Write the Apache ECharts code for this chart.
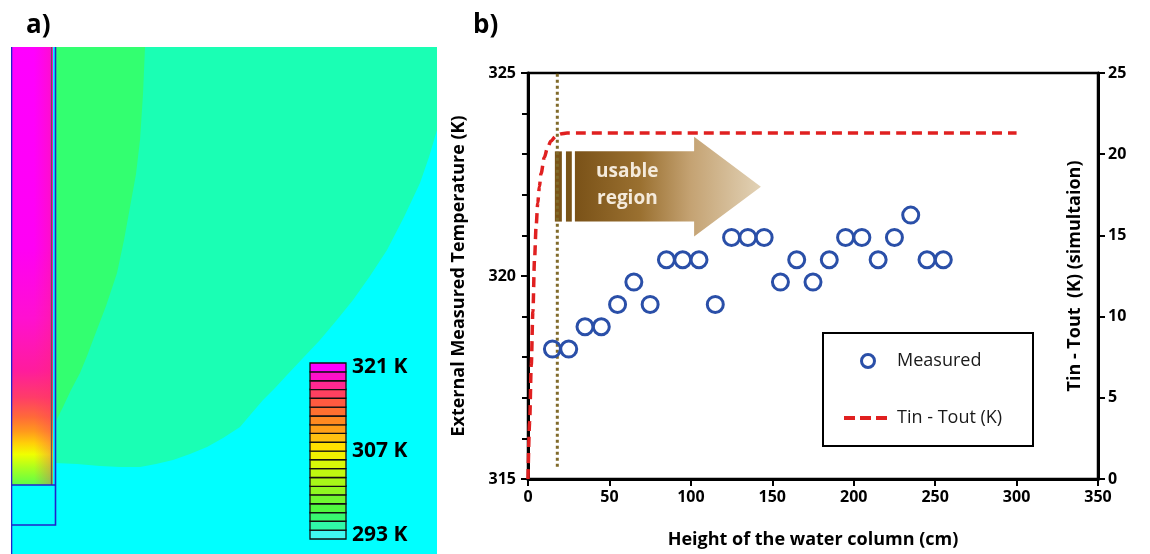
<!DOCTYPE html>
<html><head><meta charset="utf-8">
<script src="https://cdn.jsdelivr.net/npm/echarts@6/dist/echarts.min.js"></script>
<style>html,body{margin:0;padding:0;background:#fff}#c{width:1150px;height:554px}</style>
</head><body><div id="c"></div>
<script>
// ---------- Panel b data ----------
const heights = [15,25,35,45,55,65,75,85,95,105,115,125,135,145,155,165,175,185,195,205,215,225,235,245,255];
const measuredTemps = [318.2,318.2,318.75,318.75,319.3,319.85,319.3,320.4,320.4,320.4,319.3,320.95,320.95,320.95,319.85,320.4,319.85,320.4,320.95,320.95,320.4,320.95,321.5,320.4,320.4];
const simHeights = [0,1,2,3,4,5,6,7,8,10,12,14,17,20,24,30,300];
const simDeltaT  = [0,3.5,7,10.3,13.5,15.6,17,18,18.8,19.8,20.4,20.8,21.1,21.25,21.3,21.3,21.3];
const usableStartHeight = 18;        // dotted limit (cm)
const usableLineRange = [315.3, 325]; // K span of the dotted limit

// ---------- Panel a data (simulation field, r = radial, z = height units) ----------
const mintRegion  = [[44,507],[426,507],[426,424],[418,397],[409,371],[393,337],[376,304],[359,278],[342,254],[325,233],[309,214],[292,196],[276,179],[264,166],[252,154],[240,140],[229,127],[212,116],[196,107],[179,100],[162,94],[145,90],[129,87],[109,87],[89,88],[66,90],[44,91]];
const greenRegion = [[44,507],[134,507],[132,460],[129,414],[125,380],[119,347],[113,314],[106,281],[95,248],[82,214],[76,198],[69,181],[60,164],[52,147],[44,131]];
const heaterR = [0,42], heaterZ = [69,507];
const heaterEdgeR = 40.5;
const wallR = [0,44], wallZ = [29,507];
const colorbarTemps = [293.0,294.5,296.0,297.4,298.9,300.4,301.8,303.3,304.8,306.3,307.7,309.2,310.7,312.1,313.6,315.1,316.6,318.0,319.5,321.0];
const colorbarLabels = [293,307,321];

// palette (styles) bottom -> top
const colorbarPalette = ['#40F8F0','#30F8A8','#38F870','#50F840','#70F830','#90F820','#A8F818','#C0F810','#D8F808','#F0F000','#FFE000','#FFC010','#FFA018','#FF8A20','#FF7030','#FF5A40','#FF4060','#FF2890','#FF10C8','#FF00FF'];

const usableArrow = {xStart:28.8, xHead:102, xTip:143, bodyTop:323.07, bodyBottom:321.34, headTop:323.43, headBottom:320.97,
  stripes:[[16.5,20.8],[23.3,26.9]], labelX:61, labelY:322.23};

const FONT = '"Open Sans"';
const chart = echarts.init(document.getElementById('c'), null, {renderer:'canvas'});
const half = (colorbarTemps[colorbarTemps.length-1]-colorbarTemps[0])/(colorbarTemps.length-1)/2;
const bold = (s)=>({fontFamily:FONT, fontWeight:'bold', fontSize:s, color:'#000'});

const option = {
  animation:false,
  backgroundColor:'#fff',
  title:[
    {text:'a)', left:21, top:8, textStyle:bold(26)},
    {text:'b)', left:468, top:8, textStyle:bold(26)}
  ],
  grid:[
    {left:11, top:47, width:426, height:507, show:true, backgroundColor:'#00FFFF', borderWidth:0},
    {left:310, top:363, width:36, height:176},
    {left:528, top:73, width:570, height:407, show:true, borderColor:'#000', borderWidth:2.5, backgroundColor:'rgba(0,0,0,0)'}
  ],
  xAxis:[
    {gridIndex:0, type:'value', min:0, max:426, show:false},
    {gridIndex:1, type:'value', min:0, max:1, show:false},
    {gridIndex:2, type:'value', min:0, max:350, interval:50,
     axisLine:{lineStyle:{color:'#000', width:3}}, axisTick:{length:7, lineStyle:{color:'#000', width:2}},
     splitLine:{show:false},
     axisLabel:Object.assign(bold(16), {margin:10}),
     name:'Height of the water column (cm)', nameLocation:'middle', nameGap:52,
     nameTextStyle:bold(18)}
  ],
  yAxis:[
    {gridIndex:0, type:'value', min:0, max:507, show:false},
    {gridIndex:1, type:'value', min:colorbarTemps[0]-half, max:colorbarTemps[colorbarTemps.length-1]+half, position:'right',
     axisLine:{show:false}, axisTick:{show:false}, splitLine:{show:false},
     axisLabel:Object.assign(bold(21), {customValues:colorbarLabels, formatter:'{value} K', margin:6})},
    {gridIndex:2, type:'value', min:315, max:325, interval:5, position:'left',
     axisLine:{show:true, lineStyle:{color:'#000', width:3}},
     axisTick:{show:true, length:7, lineStyle:{color:'#000', width:2}},
     minorTick:{show:true, splitNumber:5, length:6, lineStyle:{color:'#000', width:2}},
     splitLine:{show:false},
     axisLabel:Object.assign(bold(16), {margin:12}),
     name:'External Measured Temperature (K)', nameLocation:'middle', nameGap:60, nameRotate:90,
     nameTextStyle:bold(18)},
    {gridIndex:2, type:'value', min:0, max:25, interval:5, position:'right',
     axisLine:{show:true, lineStyle:{color:'#000', width:3}},
     axisTick:{show:true, length:7, lineStyle:{color:'#000', width:2}},
     splitLine:{show:false},
     axisLabel:Object.assign(bold(16), {margin:10}),
     name:'Tin - Tout  (K) (simultaion)', nameLocation:'middle', nameGap:-32, nameRotate:90,
     nameTextStyle:bold(18)}
  ],
  legend:{
    orient:'vertical', left:823, top:333, padding:[18,18,18,19], itemGap:37, itemWidth:48, itemHeight:13,
    borderColor:'#000', borderWidth:2, backgroundColor:'#fff',
    textStyle:{fontFamily:FONT, fontSize:18, color:'#1a1a1a', width:118, lineHeight:20},
    data:[
      {name:'Measured', icon:'circle', itemStyle:{color:'rgba(255,255,255,0)', borderColor:'#2A4FA8', borderWidth:3, opacity:1}},
      {name:'Tin - Tout (K)', itemStyle:{opacity:0}, lineStyle:{color:'#E02020', width:4, type:[11,5]}}
    ]
  },
  series:[
    // panel a: temperature zones
    {type:'custom', xAxisIndex:0, yAxisIndex:0, silent:true, clip:true, data:[[0,0]],
     renderItem:(p, api)=>{
       const pts = a=>a.map(q=>api.coord(q));
       const h0 = api.coord([heaterR[0], heaterZ[1]]), h1 = api.coord([heaterR[1], heaterZ[0]]);
       const w0 = api.coord([wallR[0], wallZ[1]]), w1 = api.coord([wallR[1], wallZ[0]]);
       const hb = api.coord([wallR[0], heaterZ[0]]);
       const he = api.coord([heaterEdgeR, heaterZ[0]]);
       const bottom = api.coord([0,0]);
       return {type:'group', children:[
         {type:'polygon', shape:{points:pts(mintRegion)}, style:{fill:'#1AFFB4'}},
         {type:'polygon', shape:{points:pts(greenRegion)}, style:{fill:'#33FF70'}},
         {type:'rect', shape:{x:h0[0], y:h0[1], width:h1[0]-h0[0], height:h1[1]-h0[1]},
          style:{fill:new echarts.graphic.LinearGradient(0,0,0,1,[
            {offset:0,color:'#FF00FF'},{offset:0.46,color:'#FF00F4'},{offset:0.62,color:'#FF10D0'},
            {offset:0.74,color:'#FF1C9C'},{offset:0.80,color:'#FF3C68'},{offset:0.845,color:'#FF6A38'},
            {offset:0.878,color:'#FF9A1C'},{offset:0.905,color:'#FFD008'},{offset:0.93,color:'#F0FF00'},
            {offset:0.962,color:'#A8FF20'},{offset:1,color:'#5CFF48'}])}},
         {type:'rect', shape:{x:h0[0], y:h0[1], width:h1[0]-h0[0], height:h1[1]-h0[1]},
          style:{fill:new echarts.graphic.LinearGradient(0,0,1,0,[
            {offset:0,color:'rgba(255,40,120,0)'},{offset:0.55,color:'rgba(255,40,120,0)'},{offset:1,color:'rgba(255,40,110,0.35)'}])}},
         {type:'line', shape:{x1:he[0], y1:h0[1], x2:he[0], y2:h1[1]}, style:{stroke:'#6A5A50', lineWidth:1.3}},
         {type:'rect', shape:{x:w0[0]+0.5, y:w0[1]-2, width:w1[0]-w0[0], height:w1[1]-w0[1]+2}, style:{fill:'none', stroke:'#2222CC', lineWidth:1.6}},
         {type:'line', shape:{x1:hb[0], y1:hb[1], x2:w1[0], y2:hb[1]}, style:{stroke:'#2222CC', lineWidth:1.6}},
         {type:'line', shape:{x1:bottom[0]+0.5, y1:w1[1], x2:bottom[0]+0.5, y2:bottom[1]}, style:{stroke:'#2222CC', lineWidth:1.6}}
       ]};
     }},
    // colorbar
    {type:'custom', xAxisIndex:1, yAxisIndex:1, silent:true, data:colorbarTemps.map(t=>[0.5,t]),
     renderItem:(p, api)=>{
       const t = api.value(1);
       const top = api.coord([0, t+half]), bot = api.coord([0, t-half]);
       const cs = p.coordSys;
       return {type:'rect', shape:{x:cs.x, y:top[1], width:cs.width, height:bot[1]-top[1]},
         style:{fill:colorbarPalette[p.dataIndex], stroke:'#111', lineWidth:1.3}};
     }},
    // usable region arrow
    {type:'custom', xAxisIndex:2, yAxisIndex:2, silent:true, z:2, data:[[usableArrow.xStart, usableArrow.bodyTop]],
     renderItem:(p, api)=>{
       const A = usableArrow;
       const c = (x,y)=>api.coord([x,y]);
       const tipY = (A.headTop + A.headBottom)/2;
       const poly = [c(A.xStart,A.bodyTop), c(A.xHead,A.bodyTop), c(A.xHead,A.headTop), c(A.xTip,tipY),
                     c(A.xHead,A.headBottom), c(A.xHead,A.bodyBottom), c(A.xStart,A.bodyBottom)];
       const kids = [{type:'polygon', shape:{points:poly}, style:{fill:new echarts.graphic.LinearGradient(0,0,1,0,[
           {offset:0,color:'#7A5218'},{offset:0.35,color:'#9A7030'},{offset:0.62,color:'#C4A272'},{offset:1,color:'#E2D2B6'}])}}];
       A.stripes.forEach(s=>{
         const a = c(s[0],A.bodyTop), b = c(s[1],A.bodyBottom);
         kids.push({type:'rect', shape:{x:a[0], y:a[1], width:b[0]-a[0], height:b[1]-a[1]}, style:{fill:'#7A5418'}});
       });
       const lp = c(A.labelX, A.labelY);
       kids.push({type:'text', x:lp[0], y:lp[1], style:{text:'usable\nregion', fill:'#F4EADB', font:'bold 19px "Open Sans"', align:'center', verticalAlign:'middle', lineHeight:27}});
       return {type:'group', children:kids};
     }},
    // dotted limit
    {type:'line', name:'limit', xAxisIndex:2, yAxisIndex:2, z:3, silent:true, symbol:'none',
     data:usableLineRange.map(v=>[usableStartHeight, v]),
     lineStyle:{color:'#806A2A', width:3, type:[3,3]}},
    // simulation line
    {type:'line', name:'Tin - Tout (K)', xAxisIndex:2, yAxisIndex:3, z:4, symbol:'none', smooth:0.3, smoothMonotone:'x',
     data:simHeights.map((h,i)=>[h, simDeltaT[i]]),
     lineStyle:{color:'#E02020', width:3.5, type:[10,6]}},
    // measured
    {type:'scatter', name:'Measured', xAxisIndex:2, yAxisIndex:2, z:5, symbol:'circle', symbolSize:16,
     data:heights.map((h,i)=>[h, measuredTemps[i]]),
     itemStyle:{color:'rgba(255,255,255,0)', borderColor:'#2A4FA8', borderWidth:3, opacity:1}}
  ]
};
chart.setOption(option);
</script></body></html>
